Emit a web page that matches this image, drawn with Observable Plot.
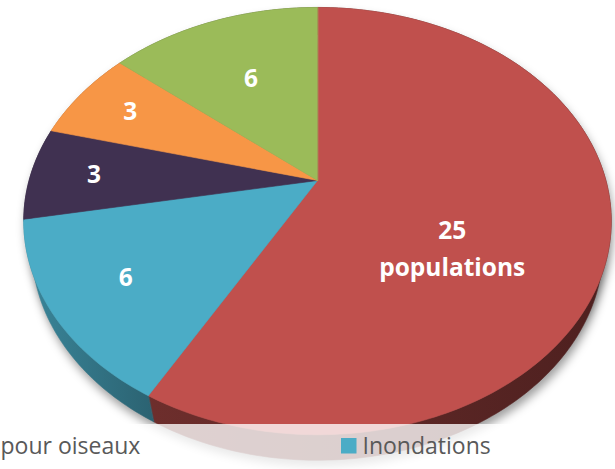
<!DOCTYPE html>
<html><head><meta charset="utf-8">
<script src="https://cdn.jsdelivr.net/npm/d3@7"></script>
<script src="https://cdn.jsdelivr.net/npm/@observablehq/plot@0.6"></script>
<style>html,body{margin:0;padding:0;background:#fff}svg{display:block}</style>
</head><body><div id="chart"></div>
<script>
// ---- data (clockwise from 12 o'clock) ----
const values = [25, 6, 3, 3, 6];
const sliceColors = ["#C0504D", "#4BACC6", "#403151", "#F79646", "#9BBB59"];
const sliceLabels = ["25\npopulations", "6", "3", "3", "6"];
const legendLabels = ["pour oiseaux", "Inondations"];
const legendSwatch = "#4BACC6";

// ---- layout / 3D view settings ----
const W = 615, H = 469;
const cx = 317, cy = 180, S = 288.4;           // centre and radius scale in px
const sinP = 0.714, cosP = 0.700, rho = 0.2714; // tilt and perspective
const thick = 0.14;                              // pie thickness (radius units)
const labelPlace = [[0.6, 0.54], [0.5, 0.75], [0.5, 0.78], [0.5, 0.78], [0.5, 0.6]]; // [fraction of slice angle, radius]
const bandTop = 424;

function proj(theta, r, Y) {
  const X = r * Math.sin(theta), Z = r * Math.cos(theta);
  const yv = Y * cosP + Z * sinP;
  const zv = -Y * sinP + Z * cosP;
  const w = 1 + rho * zv;
  return [cx + S * X / w, cy - S * yv / w];
}

const total = d3.sum(values);
const cum = d3.cumsum(values);
const slices = values.map((v, i) => {
  const a0 = 2 * Math.PI * (cum[i] - v) / total;
  const a1 = 2 * Math.PI * cum[i] / total;
  return {i, v, a0, a1};
});
function arc(a0, a1, r, Y) {
  const n = Math.max(2, Math.ceil((a1 - a0) / (Math.PI / 180)) + 1);
  return d3.range(n).map(k => proj(a0 + (a1 - a0) * k / (n - 1), r, Y));
}

const topPts = slices.map(s => [proj(0, 0, 0), ...arc(s.a0, s.a1, 1, 0)].map(([x, y]) => ({x, y})));
const sidePts = slices.map(s => [...arc(s.a0, s.a1, 1, 0), ...arc(s.a0, s.a1, 1, -thick).reverse()].map(([x, y]) => ({x, y})));
const shadowPts = [
  ...arc(0, 2 * Math.PI, 1, 0).map(([x, y]) => ({id: "t", x, y})),
  ...arc(0, 2 * Math.PI, 1, -thick).map(([x, y]) => ({id: "b", x, y}))
];
const labelRows = slices.map(s => {
  const [f, r] = labelPlace[s.i];
  const [x, y] = proj(s.a0 + (s.a1 - s.a0) * f, r, 0);
  return {x, y, text: sliceLabels[s.i]};
});

const sideColor = (c, f) => { const q = d3.rgb(c); return d3.rgb(q.r * f, q.g * f, q.b * f).formatHex(); };

const marks = [
  Plot.line(shadowPts, {x: "x", y: "y", z: "id", fill: "#000", fillOpacity: 0.38, stroke: "none", curve: "linear-closed", dx: 2, dy: 6, ariaDescription: "shadow"}),
  ...sidePts.map((pts, i) => Plot.line(pts, {x: "x", y: "y", fill: sideColor(sliceColors[i], 0.5), stroke: sideColor(sliceColors[i], 0.5), strokeWidth: 0.6, curve: "linear-closed", ariaDescription: "side-" + i})),
  ...topPts.map((pts, i) => Plot.line(pts, {x: "x", y: "y", fill: sliceColors[i], stroke: sliceColors[i], strokeWidth: 0.6, curve: "linear-closed"})),
  Plot.text(labelRows, {x: "x", y: "y", text: "text", dy: -4, fill: "white", fontSize: 24.5, fontWeight: "bold", fontFamily: "Open Sans", lineHeight: 1.52}),
  Plot.rect([0], {x1: () => 0, x2: () => W, y1: () => bandTop, y2: () => H, fill: "white", fillOpacity: 0.78}),
  Plot.rect([0], {x1: () => 341, x2: () => 356.5, y1: () => 438, y2: () => 453.5, fill: legendSwatch}),
  Plot.text([legendLabels[0]], {x: () => 0, y: () => 453, text: d => d, textAnchor: "start", lineAnchor: "bottom", fill: "#595959", fontSize: 23, fontFamily: "Open Sans"}),
  Plot.text([legendLabels[1]], {x: () => 362, y: () => 453, text: d => d, textAnchor: "start", lineAnchor: "bottom", fill: "#595959", fontSize: 23, fontFamily: "Open Sans"})
];

const svg = Plot.plot({
  width: W, height: H, margin: 0,
  x: {domain: [0, W], range: [0, W], axis: null},
  y: {domain: [0, H], range: [0, H], axis: null},
  style: {background: "white", overflow: "hidden"},
  marks
});

// defs: shadow blur + side lighting gradients
const sel = d3.select(svg);
const defs = sel.insert("defs", ":first-child");
defs.append("filter").attr("id", "pieShadow").attr("x", "-20%").attr("y", "-20%").attr("width", "140%").attr("height", "140%")
  .append("feGaussianBlur").attr("stdDeviation", 5);
sliceColors.forEach((c, i) => {
  const g = defs.append("linearGradient").attr("id", "side-" + i).attr("gradientUnits", "userSpaceOnUse")
    .attr("x1", 0).attr("x2", W).attr("y1", 0).attr("y2", 0);
  [[0, 0.82], [0.25, 0.57], [1, 0.40]].forEach(([o, f]) => g.append("stop").attr("offset", o).attr("stop-color", sideColor(c, f)));
  sel.selectAll(`g[aria-description="side-${i}"] path`).attr("fill", `url(#side-${i})`).attr("stroke", `url(#side-${i})`);
});
sel.selectAll('g[aria-description="shadow"]').attr("filter", "url(#pieShadow)");

document.getElementById("chart").appendChild(svg);
</script>
</body></html>
